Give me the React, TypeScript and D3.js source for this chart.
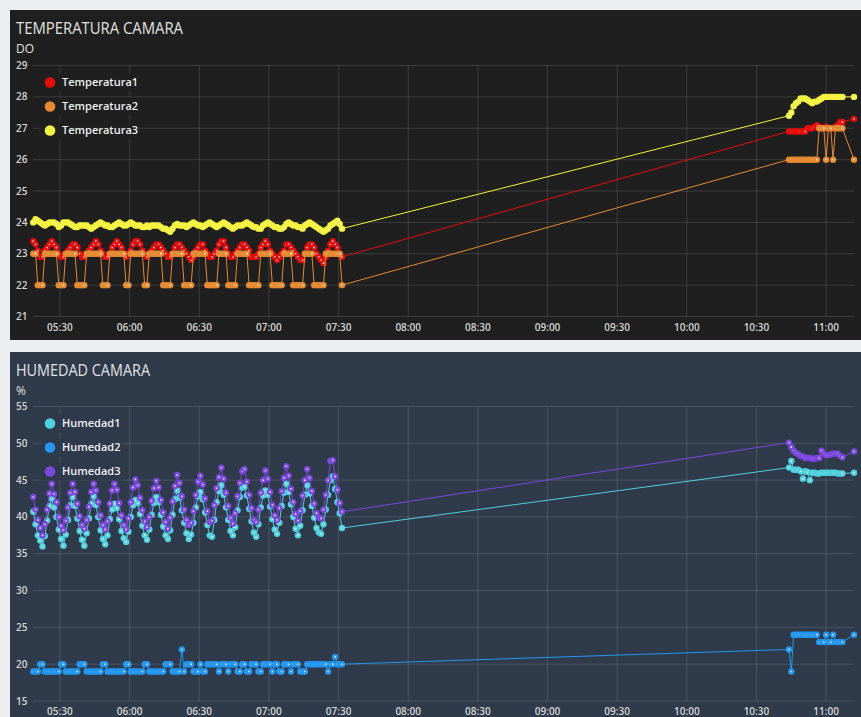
import React from 'react';
import * as d3 from 'd3';

// one sample per minute in each of the two recorded stretches
const leftStart = new Date(2024, 0, 1, 5, 18, 30);
const rightStart = new Date(2024, 0, 1, 10, 44, 0);
const timeDomain: [Date, Date] = [new Date(2024, 0, 1, 5, 18, 24), new Date(2024, 0, 1, 11, 12, 0)];
const STEP = 60000;

// TEMPERATURA CAMARA
const temp1Left = [
  23.4, 23.3, 23.1, 22.9, 22.9, 23.1, 23.2, 23.3, 23.4, 23.3,
  23.2, 23.0, 22.9, 22.9, 23.0, 23.1, 23.2, 23.3, 23.3, 23.2,
  23.0, 22.9, 22.9, 23.0, 23.1, 23.2, 23.3, 23.4, 23.3, 23.1,
  23.0, 22.9, 22.9, 23.0, 23.2, 23.3, 23.4, 23.3, 23.2, 23.0,
  22.9, 23.0, 23.1, 23.3, 23.4, 23.4, 23.3, 23.1, 23.0, 22.9,
  23.0, 23.1, 23.2, 23.3, 23.3, 23.2, 23.1, 23.0, 22.9, 22.9,
  23.0, 23.2, 23.3, 23.3, 23.2, 23.1, 23.0, 22.9, 22.8, 22.9,
  23.1, 23.2, 23.3, 23.3, 23.1, 23.0, 22.9, 22.9, 23.0, 23.1,
  23.3, 23.4, 23.4, 23.2, 23.0, 22.9, 22.9, 23.0, 23.1, 23.2,
  23.3, 23.3, 23.2, 23.1, 22.9, 22.9, 22.9, 23.0, 23.2, 23.3,
  23.4, 23.3, 23.1, 23.0, 22.9, 22.8, 22.9, 23.0, 23.1, 23.3,
  23.3, 23.2, 23.1, 23.0, 22.9, 22.8, 22.8, 23.0, 23.2, 23.3,
  23.3, 23.2, 23.0, 22.9, 22.8, 22.7, 22.9, 23.1, 23.3, 23.4,
  23.3, 23.2, 23.0, 22.9,
];
const temp2Left = [
  23, 23, 22, 22, 22, 23, 23, 23, 23, 23,
  23, 22, 22, 22, 23, 23, 23, 23, 23, 22,
  22, 22, 22, 23, 23, 23, 23, 23, 23, 23,
  22, 22, 22, 23, 23, 23, 23, 23, 23, 23,
  22, 22, 23, 23, 23, 23, 23, 23, 22, 22,
  23, 23, 23, 23, 23, 23, 22, 22, 22, 22,
  23, 23, 23, 23, 23, 22, 22, 22, 22, 23,
  23, 23, 23, 23, 23, 22, 22, 22, 22, 22,
  23, 23, 23, 23, 22, 22, 22, 22, 23, 23,
  23, 23, 23, 22, 22, 22, 22, 22, 23, 23,
  23, 23, 23, 22, 22, 22, 22, 22, 23, 23,
  23, 23, 22, 22, 22, 22, 22, 23, 23, 23,
  23, 22, 22, 22, 22, 22, 23, 23, 23, 23,
  23, 23, 23, 22,
];
const temp3Left = [
  24.0, 24.1, 24.05, 24.0, 23.95, 23.9, 23.95, 24.0, 24.0, 24.0,
  23.95, 23.85, 23.9, 24.0, 24.0, 24.0, 23.95, 23.9, 23.85, 23.85,
  23.9, 23.9, 23.9, 23.9, 23.85, 23.8, 23.85, 23.9, 23.95, 24.0,
  23.95, 23.9, 23.9, 23.85, 23.85, 23.9, 23.95, 24.0, 23.95, 23.9,
  23.9, 23.95, 24.0, 23.95, 23.9, 23.9, 23.9, 23.85, 23.85, 23.9,
  23.85, 23.9, 23.9, 23.9, 23.9, 23.85, 23.8, 23.8, 23.75, 23.7,
  23.8, 23.9, 23.95, 23.9, 23.9, 23.9, 23.85, 23.9, 23.95, 24.0,
  23.95, 23.9, 23.9, 23.85, 23.9, 23.95, 24.0, 23.95, 23.9, 23.85,
  23.9, 23.95, 24.0, 23.95, 23.9, 23.85, 23.8, 23.85, 23.9, 23.9,
  23.9, 23.95, 24.0, 23.95, 23.9, 23.85, 23.85, 23.8, 23.8, 23.9,
  23.95, 24.0, 23.95, 23.9, 23.85, 23.85, 23.8, 23.8, 23.85, 23.95,
  24.0, 23.95, 23.9, 23.9, 23.85, 23.85, 23.8, 23.9, 23.95, 24.0,
  23.95, 23.9, 23.85, 23.8, 23.75, 23.7, 23.75, 23.8, 23.9, 23.95,
  24.0, 24.05, 23.95, 23.8,
];
const temp1Right = [
  26.9, 26.9, 26.9, 26.9, 26.9, 26.9, 26.9, 26.9, 27.0, 27.0,
  27.0, 27.05, 27.1, 27.05, 27.0, 27.0, 27.05, 27.0, 27.0, 27.0,
  27.05, 27.1, 27.2, 27.2, null, null, null, null, 27.3,
];
const temp2Right = [
  26, 26, 26, 26, 26, 26, 26, 26, 26, 26,
  26, 26, 26, 27, 27, 27, 26, 27, 27, 26,
  27, 27, 27, 27, null, null, null, null, 26,
];
const temp3Right = [
  27.4, 27.5, 27.7, 27.8, 27.85, 27.95, 27.95, 27.95, 27.9, 27.85,
  27.8, 27.85, 27.85, 27.9, 27.95, 28, 28, 28, 28, 28,
  28, 28, 28, 28, null, null, null, null, 28,
];

// HUMEDAD CAMARA
const hum1Left = [
  40.7, 39.0, 37.5, 36.8, 36.0, 37.4, 39.5, 41.5, 42.5, 41.3,
  40.0, 38.3, 37.0, 36.1, 37.6, 39.6, 41.6, 42.7, 41.5, 39.8,
  38.1, 36.9, 36.1, 37.8, 39.8, 41.8, 42.8, 41.6, 40.0, 38.2,
  37.0, 36.3, 37.5, 39.7, 41.0, 41.8, 41.2, 39.7, 38.1, 37.1,
  36.6, 38.0, 40.0, 41.6, 42.3, 41.9, 40.4, 38.8, 37.5, 36.9,
  38.3, 40.3, 41.9, 42.7, 42.0, 40.3, 38.7, 37.5, 37.0, 38.2,
  40.3, 42.4, 43.6, 42.6, 40.9, 39.2, 37.8, 37.0, 37.6, 39.2,
  41.3, 42.8, 43.4, 42.4, 40.6, 38.9, 37.5, 37.3, 39.6, 42.0,
  43.5, 44.3, 43.0, 41.3, 39.6, 38.1, 37.5, 38.6, 40.9, 42.7,
  44.0, 44.1, 42.9, 41.1, 39.4, 37.9, 37.3, 39.0, 41.3, 42.9,
  43.6, 43.0, 41.4, 39.7, 38.3, 37.7, 39.2, 41.5, 43.3, 44.5,
  43.4, 41.7, 40.0, 38.4, 37.5, 38.8, 40.9, 43.0, 44.3, 43.2,
  41.5, 39.9, 38.5, 37.9, 37.7, 39.0, 41.0, 43.0, 45.0, 45.5,
  43.8, 42.0, 40.5, 38.5,
];
const hum2Left = [
  19, 19, 19, 20, 20, 19, 19, 19, 19, 19,
  19, 19, 20, 20, 19, 19, 19, 19, 19, 19,
  20, 20, 20, 19, 19, 19, 19, 19, 19, 19,
  20, 20, 19, 19, 19, 19, 19, 19, 19, 19,
  20, 20, 19, 19, 19, 19, 19, 19, 20, 20,
  19, 19, 19, 19, 19, 19, 19, 20, 20, 20,
  19, 19, 19, 19, 22, 19, 20, 20, 20, 19,
  19, 19, 20, 19, 19, 20, 20, 20, 20, 20,
  19, 20, 20, 20, 19, 20, 20, 20, 19, 19,
  20, 20, 19, 19, 20, 20, 20, 19, 19, 20,
  20, 20, 20, 19, 20, 20, 19, 19, 20, 20,
  20, 19, 20, 20, 20, 19, 19, 19, 20, 20,
  20, 20, 20, 20, 20, 20, 20, 19, 20, 20,
  21, 20, 20, 20,
];
const hum3Left = [
  42.7, 41.0, 39.6, 38.5, 37.5, 39.0, 41.0, 43.2, 44.5, 43.1,
  42.0, 40.0, 38.8, 38.2, 39.5, 41.3, 43.3, 44.5, 43.4, 41.8,
  40.1, 38.9, 38.4, 39.6, 41.4, 43.4, 44.5, 43.6, 42.0, 40.2,
  38.9, 38.3, 39.4, 41.8, 43.6, 44.5, 43.7, 41.9, 40.2, 38.9,
  38.3, 39.8, 42.0, 44.0, 45.1, 44.3, 42.6, 40.9, 39.4, 38.6,
  40.0, 42.2, 43.9, 44.9, 44.0, 42.3, 40.6, 39.3, 38.4, 39.9,
  42.1, 44.2, 45.7, 44.6, 42.8, 41.0, 39.6, 38.9, 39.2, 40.8,
  43.0, 44.8, 45.6, 44.4, 42.5, 40.8, 39.3, 39.5, 41.6, 43.9,
  45.4, 46.7, 45.2, 43.3, 41.5, 39.9, 39.1, 40.5, 42.8, 44.6,
  46.2, 46.5, 44.8, 43.0, 41.2, 39.6, 39.3, 41.0, 43.3, 45.0,
  46.3, 45.2, 43.4, 41.6, 40.2, 39.6, 41.2, 43.5, 45.3, 46.9,
  45.6, 43.8, 42.0, 40.4, 39.5, 40.8, 42.9, 45.0, 46.5, 45.3,
  43.5, 41.8, 40.5, 39.9, 39.8, 41.0, 43.0, 45.0, 47.6, 47.7,
  45.5, 43.7, 41.9, 40.7,
];
const hum1Right = [
  46.7, 47.6, 46.4, 46.4, 46.4, 46.2, 45.2, 46.2, 46.1, 45.0,
  46.0, 46.0, 45.9, 45.9, 46.0, 46.0, 46.0, 46.0, 46.0, 46.0,
  46.0, 45.9, 45.9, 45.9, null, null, null, null, 46.0,
];
const hum2Right = [
  22, 19, 24, 24, 24, 24, 24, 24, 24, 24,
  24, 24, 24, 23, 23, 23, 24, 23, 23, 24,
  23, 23, 23, 23, null, null, null, null, 24,
];
const hum3Right = [
  50.1, 49.5, 49.0, 48.7, 48.5, 48.3, 48.2, 48.0, 48.0, 48.0,
  47.9, 47.9, 48.0, 48.0, 49.0, 48.6, 48.4, 48.4, 48.5, 48.6,
  48.6, 48.6, 48.3, 48.1, null, null, null, null, 48.9,
];

const tempTicks = [21, 22, 23, 24, 25, 26, 27, 28, 29];
const humTicks = [15, 20, 25, 30, 35, 40, 45, 50, 55];

type Pt = { t: Date; v: number };
type Series = { name: string; color: string; points: Pt[] };

function buildPoints(left: (number | null)[], right: (number | null)[]): Pt[] {
  const pts: Pt[] = [];
  left.forEach((v, i) => {
    if (v != null) pts.push({ t: new Date(leftStart.getTime() + i * STEP), v });
  });
  right.forEach((v, i) => {
    if (v != null) pts.push({ t: new Date(rightStart.getTime() + i * STEP), v });
  });
  return pts;
}

const tempSeries: Series[] = [
  { name: 'Temperatura1', color: '#e60c0c', points: buildPoints(temp1Left, temp1Right) },
  { name: 'Temperatura2', color: '#e58a30', points: buildPoints(temp2Left, temp2Right) },
  { name: 'Temperatura3', color: '#f4f23c', points: buildPoints(temp3Left, temp3Right) },
];
const humSeries: Series[] = [
  { name: 'Humedad1', color: '#4fd0df', points: buildPoints(hum1Left, hum1Right) },
  { name: 'Humedad2', color: '#2397f0', points: buildPoints(hum2Left, hum2Right) },
  { name: 'Humedad3', color: '#7a48de', points: buildPoints(hum3Left, hum3Right) },
];

const FONT = '"Open Sans", "Noto Sans", sans-serif';

interface PanelProps {
  top: number;
  bottom: number;
  bg: string;
  title: string;
  titleW: number;
  unit: string;
  yDomain: [number, number];
  yRange: [number, number];
  yTicks: number[];
  series: Series[];
  legendW: number;
}

function Panel({ top, bottom, bg, title, titleW, unit, yDomain, yRange, yTicks, series, legendW }: PanelProps) {
  const x = d3.scaleTime().domain(timeDomain).range([33, 854]);
  const y = d3.scaleLinear().domain(yDomain).range(yRange);
  const xTicks = x.ticks(d3.timeMinute.every(30)!);
  const fmt = d3.timeFormat('%H:%M');
  const line = d3.line<Pt>().x(d => x(d.t)).y(d => y(d.v));
  const grid = 'rgba(255,255,255,0.13)';
  const legendY = yRange[1] + 17;

  return (
    <g>
      <rect x={10} y={top} width={860} height={bottom - top} fill={bg} />
      <text x={16} y={top + 24} fill="#e2e2e2" fontSize={15.5} fontWeight={400} fontFamily={FONT}
        textLength={titleW} lengthAdjust="spacingAndGlyphs">{title}</text>
      <text x={16} y={top + 43} fill="#e2e2e2" fontSize={12} fontFamily={FONT}>{unit}</text>

      {/* grid */}
      {yTicks.map(t => (
        <line key={'h' + t} x1={33} x2={854} y1={y(t)} y2={y(t)} stroke={grid} />
      ))}
      {xTicks.map(t => (
        <line key={'v' + t.getTime()} x1={x(t)} x2={x(t)} y1={yRange[1]} y2={yRange[0]} stroke={grid} />
      ))}

      {/* axis labels */}
      {yTicks.map(t => (
        <text key={'yl' + t} x={27.5} y={y(t)} dy="0.35em" textAnchor="end" fill="#d4d4d4"
          fontSize={10} fontWeight={600} fontFamily={FONT}>{t}</text>
      ))}
      {xTicks.map(t => (
        <text key={'xl' + t.getTime()} x={x(t)} y={yRange[0] + 14} textAnchor="middle" fill="#d4d4d4"
          fontSize={10} fontWeight={600} fontFamily={FONT}>{fmt(t)}</text>
      ))}

      {/* series */}
      {series.map(s => (
        <g key={s.name}>
          <path d={line(s.points) || ''} fill="none" stroke={s.color} strokeWidth={1} />
          {s.points.map((p, i) => (
            <g key={i}>
              <circle cx={x(p.t)} cy={y(p.v)} r={3.2} fill={s.color} />
              <circle cx={x(p.t)} cy={y(p.v)} r={0.9} fill="#ffffff" opacity={0.85} />
            </g>
          ))}
        </g>
      ))}

      {/* legend */}
      {series.map((s, i) => (
        <g key={'lg' + s.name}>
          <rect x={41} y={legendY + i * 24 - 9} width={legendW} height={18} fill={bg} opacity={0.92} />
          <circle cx={50} cy={legendY + i * 24} r={5.3} fill={s.color} />
          <text x={62} y={legendY + i * 24} dy="0.35em" fill="#eeeeee" fontSize={11} fontWeight={600}
            fontFamily={FONT}>{s.name}</text>
        </g>
      ))}
    </g>
  );
}

export default function App() {
  return (
    <svg width={861} height={717} style={{ position: 'absolute', left: 0, top: 0, display: 'block' }}>
      <rect x={0} y={0} width={861} height={717} fill="#eceef0" />
      <Panel top={10} bottom={340} bg="#1f1f1f" title="TEMPERATURA CAMARA" titleW={167} unit="DO"
        yDomain={[21, 29]} yRange={[316.5, 65.5]} yTicks={tempTicks} series={tempSeries} legendW={97} />
      <Panel top={352} bottom={730} bg="#2f3a4b" title="HUMEDAD CAMARA" titleW={134} unit="%"
        yDomain={[15, 55]} yRange={[701, 406.5]} yTicks={humTicks} series={humSeries} legendW={81} />
    </svg>
  );
}
